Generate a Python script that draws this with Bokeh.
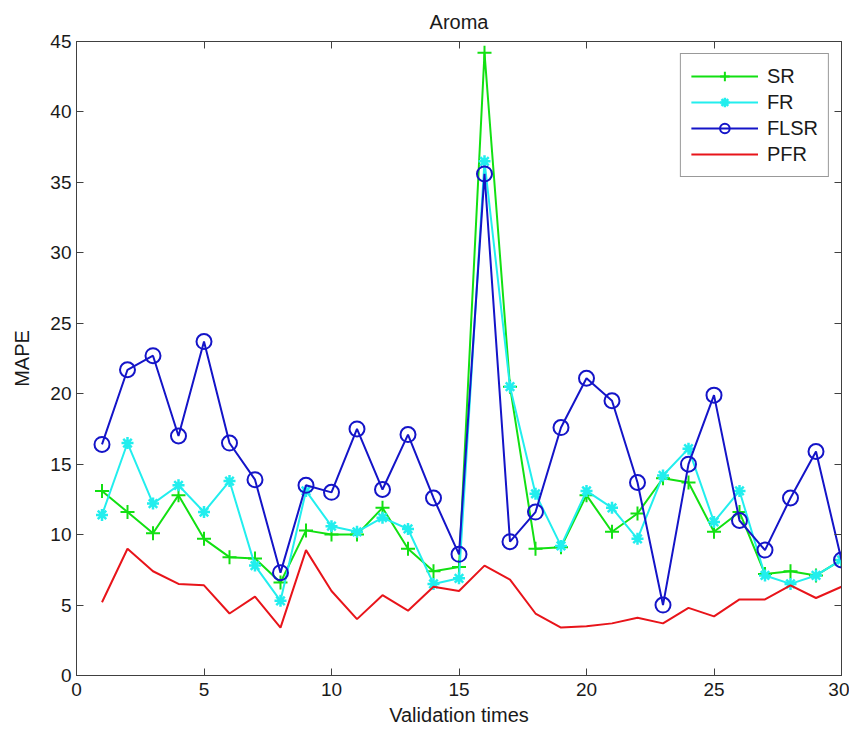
from bokeh.plotting import figure
from bokeh.models import Range1d, LinearAxis, Legend, LegendItem, CustomJSTickFormatter
from bokeh.embed import file_html
from bokeh.resources import INLINE

validation = list(range(1, 31))
sr = [13.1, 11.6, 10.1, 12.8, 9.7, 8.4, 8.3, 6.6, 10.3, 10.0, 10.0, 11.9, 9.0, 7.4, 7.7,
      44.2, 20.5, 9.0, 9.1, 12.8, 10.2, 11.5, 14.0, 13.7, 10.2, 11.6, 7.2, 7.4, 7.1, 8.2]
fr = [11.4, 16.5, 12.2, 13.5, 11.6, 13.8, 7.8, 5.3, 13.1, 10.6, 10.2, 11.2, 10.4, 6.5, 6.9,
      36.5, 20.5, 12.9, 9.2, 13.1, 11.9, 9.7, 14.2, 16.1, 10.9, 13.1, 7.1, 6.5, 7.1, 8.2]
flsr = [16.4, 21.7, 22.7, 17.0, 23.7, 16.5, 13.9, 7.3, 13.5, 13.0, 17.5, 13.2, 17.1, 12.6, 8.6,
        35.6, 9.5, 11.6, 17.6, 21.1, 19.5, 13.7, 5.0, 15.0, 19.9, 11.0, 8.9, 12.6, 15.9, 8.2]
pfr = [5.2, 9.0, 7.4, 6.5, 6.4, 4.4, 5.6, 3.4, 8.9, 6.0, 4.0, 5.7, 4.6, 6.3, 6.0,
       7.8, 6.8, 4.4, 3.4, 3.5, 3.7, 4.1, 3.7, 4.8, 4.2, 5.4, 5.4, 6.4, 5.5, 6.3]
x_ticks = [0, 5, 10, 15, 20, 25, 30]
y_ticks = [0, 5, 10, 15, 20, 25, 30, 35, 40, 45]

GREEN = "#12e012"
CYAN = "#22eeee"
BLUE = "#1414c8"
RED = "#e8141a"
AXC = "#404040"
FONT = "Liberation Sans"

p = figure(width=849, height=728, output_backend="svg", toolbar_location=None,
           x_range=Range1d(0, 30), y_range=Range1d(0, 45),
           title="Aroma", x_axis_label="Validation times", y_axis_label="MAPE",
           min_border_left=76, min_border_right=8, min_border_top=41, min_border_bottom=53)
p.xgrid.visible = False
p.ygrid.visible = False
p.outline_line_color = AXC
p.outline_line_width = 1
p.background_fill_color = "white"

p.title.text_font = FONT
p.title.text_font_size = "20px"
p.title.text_font_style = "normal"
p.title.text_color = "#1a1a1a"
p.title.align = "center"
p.title.vertical_align = "top"
p.title.standoff = 14

def style_axis(ax, ticks, show_labels=True):
    ax.ticker = ticks
    ax.major_tick_in = 7
    ax.major_tick_out = 0
    ax.minor_tick_in = 0
    ax.minor_tick_out = 0
    ax.axis_line_color = AXC
    ax.major_tick_line_color = AXC
    ax.major_label_text_font = FONT
    ax.major_label_text_font_size = "19px"
    ax.major_label_text_color = "#1a1a1a"
    ax.axis_label_text_font = FONT
    ax.axis_label_text_font_size = "20px"
    ax.axis_label_text_font_style = "normal"
    ax.axis_label_text_color = "#1a1a1a"
    if not show_labels:
        ax.formatter = CustomJSTickFormatter(code="return ''")
        ax.major_label_standoff = 0

style_axis(p.xaxis[0], x_ticks)
p.xaxis[0].major_label_standoff = 7
p.xaxis[0].axis_label_standoff = 5
style_axis(p.yaxis[0], y_ticks)
p.yaxis[0].major_label_standoff = 5
p.yaxis[0].axis_label_standoff = 14

ax_r = LinearAxis()
style_axis(ax_r, y_ticks, show_labels=False)
p.add_layout(ax_r, "right")
ax_t = LinearAxis()
style_axis(ax_t, x_ticks, show_labels=False)
p.add_layout(ax_t, "above")

l1 = p.line(validation, sr, line_color=GREEN, line_width=2)
m1 = p.scatter(validation, sr, marker="cross", size=14, line_color=GREEN, line_width=2)
l2 = p.line(validation, fr, line_color=CYAN, line_width=2)
m2 = p.scatter(validation, fr, marker="asterisk", size=12, line_color=CYAN, line_width=2.5)
l3 = p.line(validation, flsr, line_color=BLUE, line_width=2)
m3 = p.scatter(validation, flsr, marker="circle", size=15, line_color=BLUE, line_width=2,
               fill_color=None)
l4 = p.line(validation, pfr, line_color=RED, line_width=2)

legend = Legend(items=[
    LegendItem(label="SR", renderers=[l1, m1]),
    LegendItem(label="FR", renderers=[l2, m2]),
    LegendItem(label="FLSR", renderers=[l3, m3]),
    LegendItem(label="PFR", renderers=[l4]),
], location="top_right")
legend.border_line_color = "#333333"
legend.border_line_width = 1
legend.background_fill_color = "white"
legend.background_fill_alpha = 1
legend.label_text_font = FONT
legend.label_text_font_size = "20px"
legend.label_text_color = "#1a1a1a"
legend.glyph_width = 67
legend.glyph_height = 24
legend.label_height = 24
legend.label_standoff = 9
legend.spacing = 2
legend.padding = 10
legend.margin = 12
p.add_layout(legend)

open("out.html", "w").write(file_html(p, INLINE))
